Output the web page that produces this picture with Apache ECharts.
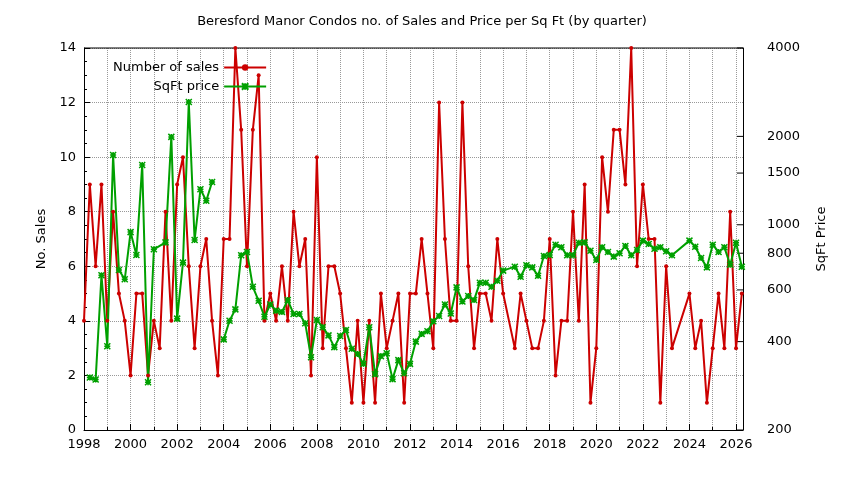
<!DOCTYPE html>
<html><head><meta charset="utf-8">
<script src="https://cdn.jsdelivr.net/npm/echarts@6/dist/echarts.min.js"></script>
<style>html,body{margin:0;padding:0;background:#fff}#c{width:844px;height:480px}</style>
</head><body><div id="c"></div>
<script>
const salesQuarters=[1998,1998.25,1998.5,1998.75,1999,1999.25,1999.5,1999.75,2000,2000.25,2000.5,2000.75,2001,2001.25,2001.5,2001.75,2002,2002.25,2002.5,2002.75,2003,2003.25,2003.5,2003.75,2004,2004.25,2004.5,2004.75,2005,2005.25,2005.5,2005.75,2006,2006.25,2006.5,2006.75,2007,2007.25,2007.5,2007.75,2008,2008.25,2008.5,2008.75,2009,2009.25,2009.5,2009.75,2010,2010.25,2010.5,2010.75,2011,2011.25,2011.5,2011.75,2012,2012.25,2012.5,2012.75,2013,2013.25,2013.5,2013.75,2014,2014.25,2014.5,2014.75,2015,2015.25,2015.5,2015.75,2016,2016.5,2016.75,2017,2017.25,2017.5,2017.75,2018,2018.25,2018.5,2018.75,2019,2019.25,2019.5,2019.75,2020,2020.25,2020.5,2020.75,2021,2021.25,2021.5,2021.75,2022,2022.25,2022.5,2022.75,2023,2023.25,2024,2024.25,2024.5,2024.75,2025,2025.25,2025.5,2025.75,2026,2026.25];
const salesCounts=[4,9,6,9,4,8,5,4,2,5,5,2,4,3,8,4,9,10,6,3,6,7,4,2,7,7,14,11,6,11,13,4,5,4,6,4,8,6,7,2,10,3,6,6,5,3,1,4,1,4,1,5,3,4,5,1,5,5,7,5,3,12,7,4,4,12,6,3,5,5,4,7,5,3,5,4,3,3,4,7,2,4,4,8,4,9,1,3,10,8,11,11,9,14,6,9,7,7,1,6,3,5,3,4,1,3,5,3,8,3,5];
const priceQuarters=[1998.25,1998.5,1998.75,1999,1999.25,1999.5,1999.75,2000,2000.25,2000.5,2000.75,2001,2001.5,2001.75,2002,2002.25,2002.5,2002.75,2003,2003.25,2003.5,null,2004,2004.25,2004.5,2004.75,2005,2005.25,2005.5,2005.75,2006,2006.25,2006.5,2006.75,2007,2007.25,2007.5,2007.75,2008,2008.25,2008.5,2008.75,2009,2009.25,2009.5,2009.75,2010,2010.25,2010.5,2010.75,2011,2011.25,2011.5,2011.75,2012,2012.25,2012.5,2012.75,2013,2013.25,2013.5,2013.75,2014,2014.25,2014.5,2014.75,2015,2015.25,2015.5,2015.75,2016,2016.5,2016.75,2017,2017.25,2017.5,2017.75,2018,2018.25,2018.5,2018.75,2019,2019.25,2019.5,2019.75,2020,2020.25,2020.5,2020.75,2021,2021.25,2021.5,2021.75,2022,2022.25,2022.5,2022.75,2023,2023.25,2024,2024.25,2024.5,2024.75,2025,2025.25,2025.5,2025.75,2026,2026.25];
const priceValues=[302,297,673,386,1729,701,652,944,789,1599,291,825,871,1992,479,743,2619,887,1321,1208,1399,null,407,471,515,787,808,615,551,486,535,510,505,554,497,497,462,354,474,448,420,383,418,438,378,363,336,448,310,357,365,298,346,312,336,400,425,434,469,489,535,499,612,548,572,554,635,635,615,645,698,720,665,728,716,670,783,789,855,838,787,787,869,871,816,759,838,808,779,800,847,787,821,883,860,829,838,812,787,883,842,771,716,855,808,838,731,869,720];
const rightTicks=[200,400,600,800,1000,1500,2000,4000];

const chart=echarts.init(document.getElementById('c'));
const F='DejaVu Sans';
const cross='path://M0,0L10,10M10,0L0,10M5,0L5,10M0,5L10,5';
chart.setOption({
  animation:false,
  title:{text:'Beresford Manor Condos no. of Sales and Price per Sq Ft (by quarter)',left:'center',top:10,textStyle:{fontFamily:F,fontSize:13,fontWeight:'normal',color:'#000'}},
  legend:{orient:'vertical',left:108,top:56,align:'right',itemWidth:42,itemHeight:8,itemGap:6,textStyle:{fontFamily:F,fontSize:13,color:'#000'},data:['Number of sales','SqFt price']},
  grid:{left:84,right:101,top:48,bottom:50},
  xAxis:{type:'value',min:1998,max:2026.3,interval:2,
    axisLine:{lineStyle:{color:'#000'}},axisTick:{inside:true,length:6,lineStyle:{color:'#000'}},
    minorTick:{show:true,splitNumber:2,length:3,lineStyle:{color:'#000'}},
    minorSplitLine:{show:true,lineStyle:{type:'dotted',color:'#999'}},
    splitLine:{show:true,lineStyle:{type:'dotted',color:'#999'}},
    axisLabel:{fontFamily:F,fontSize:13,color:'#000',formatter:v=>v>2026.1?'':String(v),showMaxLabel:false}},
  yAxis:[{type:'value',min:0,max:14,interval:2,name:'No. Sales',nameLocation:'middle',nameGap:36,nameTextStyle:{fontFamily:F,fontSize:13,color:'#000'},
    axisLine:{show:true,lineStyle:{color:'#000'}},axisTick:{inside:true,length:6,lineStyle:{color:'#000'}},
    minorTick:{show:true,splitNumber:4,length:3,lineStyle:{color:'#000'}},
    splitLine:{show:true,lineStyle:{type:'dotted',color:'#999'}},
    axisLabel:{fontFamily:F,fontSize:13,color:'#000'}},
   {type:'log',logBase:10,min:200,max:4000,position:'right',name:'SqFt Price',nameLocation:'middle',nameGap:72,nameTextStyle:{fontFamily:F,fontSize:13,color:'#000'},
    axisLine:{show:true,lineStyle:{color:'#000'}},axisTick:{show:false},axisLabel:{show:false},splitLine:{show:false}}],
  series:[
   {name:'Number of sales',type:'line',yAxisIndex:0,data:salesQuarters.map((q,i)=>[q,salesCounts[i]]),
    symbol:'circle',symbolSize:4,showAllSymbol:true,itemStyle:{color:'#cc0000'},lineStyle:{width:2,color:'#cc0000'}},
   {name:'SqFt price',type:'line',yAxisIndex:1,connectNulls:false,data:priceQuarters.map((q,i)=>q===null?[null,null]:[q,priceValues[i]]),
    symbol:cross,symbolSize:6,showAllSymbol:true,itemStyle:{color:'#00a000',borderColor:'#00a000',borderWidth:1.5},lineStyle:{width:2,color:'#00a000'}}
  ]
});
const gx=chart.convertToPixel({xAxisIndex:0},2026.3);
const gx0=chart.convertToPixel({xAxisIndex:0},1998);
const yt=chart.convertToPixel({yAxisIndex:0},14);
const els=[{type:'line',shape:{x1:gx0,y1:yt,x2:gx,y2:yt},style:{stroke:'#000',lineWidth:1}}];
rightTicks.forEach(v=>{
  const y=chart.convertToPixel({yAxisIndex:1},v);
  els.push({type:'line',shape:{x1:gx-6,y1:y,x2:gx,y2:y},style:{stroke:'#000',lineWidth:1}});
  els.push({type:'text',x:gx+24,y:y,style:{text:String(v),fontFamily:F,fontSize:13,fill:'#000',textVerticalAlign:'middle',verticalAlign:'middle'}});
});
chart.setOption({graphic:{elements:els}});
</script></body></html>
